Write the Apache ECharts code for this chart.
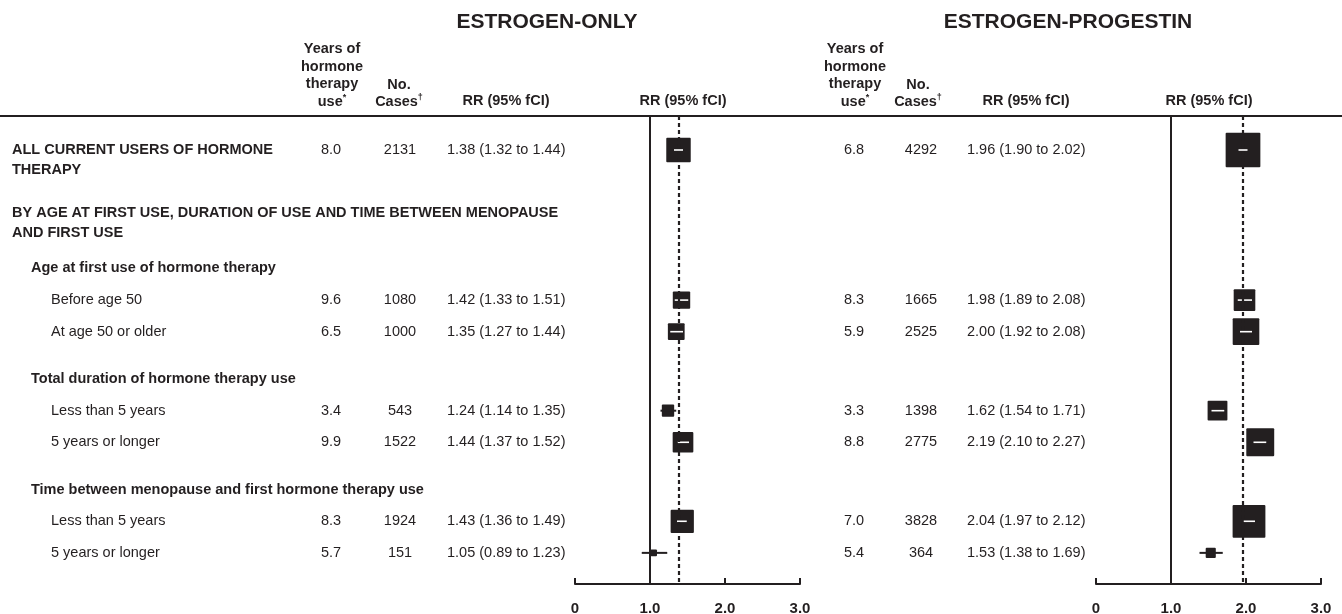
<!DOCTYPE html>
<html><head><meta charset="utf-8">
<script src="https://cdn.jsdelivr.net/npm/echarts@6/dist/echarts.min.js"></script>
<style>html,body{margin:0;padding:0;background:#fff}#c{width:1342px;height:614px}</style>
</head><body><div id="c"></div>
<script>
// ---------- data ----------
const panelTitles = ['ESTROGEN-ONLY', 'ESTROGEN-PROGESTIN'];
const rowLabels = [
  'ALL CURRENT USERS OF HORMONE\nTHERAPY',
  'BY AGE AT FIRST USE, DURATION OF USE AND TIME BETWEEN MENOPAUSE\nAND FIRST USE',
  'Age at first use of hormone therapy',
  'Before age 50',
  'At age 50 or older',
  'Total duration of hormone therapy use',
  'Less than 5 years',
  '5 years or longer',
  'Time between menopause and first hormone therapy use',
  'Less than 5 years',
  '5 years or longer'
];
const rowKinds = ['main', 'main', 'sub', 'item', 'item', 'sub', 'item', 'item', 'sub', 'item', 'item'];
const dataRows = [0, 3, 4, 6, 7, 9, 10];

const eoYears = [8.0, 9.6, 6.5, 3.4, 9.9, 8.3, 5.7];
const eoCases = [2131, 1080, 1000, 543, 1522, 1924, 151];
const eoRR    = [1.38, 1.42, 1.35, 1.24, 1.44, 1.43, 1.05];
const eoLo    = [1.32, 1.33, 1.27, 1.14, 1.37, 1.36, 0.89];
const eoHi    = [1.44, 1.51, 1.44, 1.35, 1.52, 1.49, 1.23];

const epYears = [6.8, 8.3, 5.9, 3.3, 8.8, 7.0, 5.4];
const epCases = [4292, 1665, 2525, 1398, 2775, 3828, 364];
const epRR    = [1.96, 1.98, 2.00, 1.62, 2.19, 2.04, 1.53];
const epLo    = [1.90, 1.89, 1.92, 1.54, 2.10, 1.97, 1.38];
const epHi    = [2.02, 2.08, 2.08, 1.71, 2.27, 2.12, 1.69];

const xTicks = [0, 1, 2, 3];
const xTickLabels = ['0', '1.0', '2.0', '3.0'];

// ---------- layout / style ----------
const INK = '#231f20';
const FONT = '"Liberation Sans", Arial, Helvetica, sans-serif';
const rowSlot = [0, 8, 15, 19, 23, 29, 33, 37, 43, 47, 51];
const labelX = { main: 12, sub: 31, item: 51 };
const cols = [
  { years: 331, cases: 400, rr: 447, yearsHead: 332, casesHead: 399, rrHead: 506, plotHead: 683, title: 547 },
  { years: 854, cases: 921, rr: 967, yearsHead: 855, casesHead: 918, rrHead: 1026, plotHead: 1209, title: 1068 }
];
const panels = [
  { years: eoYears, cases: eoCases, rr: eoRR, lo: eoLo, hi: eoHi },
  { years: epYears, cases: epCases, rr: epRR, lo: epLo, hi: epHi }
];

function fmtRR(p, i) {
  return p.rr[i].toFixed(2) + ' (' + p.lo[i].toFixed(2) + ' to ' + p.hi[i].toFixed(2) + ')';
}

function txt(text, x, y, font, align) {
  return {
    type: 'text', x: x, y: y - 10,
    style: { text: text, font: font, fill: INK, lineHeight: 20,
      align: align, textAlign: align, verticalAlign: 'top', textVerticalAlign: 'top' }
  };
}

function rowsRender(params, api) {
  const slot = api.value(1), r = api.value(2);
  const y = api.coord([0, slot])[1];
  const kind = rowKinds[r];
  const ch = [];
  const lf = (kind === 'item' ? '' : 'bold ') + '14.5px ' + FONT;
  ch.push(txt(rowLabels[r], labelX[kind], y, lf, 'left'));
  const di = dataRows.indexOf(r);
  if (di >= 0) {
    const f = '14.5px ' + FONT;
    panels.forEach((p, k) => {
      const c = cols[k];
      ch.push(txt(p.years[di].toFixed(1), c.years, y, f, 'center'));
      ch.push(txt(String(p.cases[di]), c.cases, y, f, 'center'));
      ch.push(txt(fmtRR(p, di), c.rr, y, f, 'left'));
    });
  }
  return { type: 'group', children: ch };
}

function boxRender(params, api) {
  const rr = api.value(0), lo = api.value(1), hi = api.value(2), cases = api.value(3), slot = api.value(4);
  const c = api.coord([rr, slot]), l = api.coord([lo, slot]), h = api.coord([hi, slot]);
  const s = 0.53 * Math.sqrt(cases);
  const x0 = c[0] - s / 2, x1 = c[0] + s / 2;
  const ch = [{ type: 'rect', shape: { x: x0, y: c[1] - s / 2, width: s, height: s, r: 1 }, style: { fill: INK } }];
  if (l[0] >= x0 + 1 && h[0] <= x1 - 1) {
    ch.push({ type: 'line', shape: { x1: l[0], y1: c[1], x2: h[0], y2: c[1] }, style: { stroke: '#fff', lineWidth: 1.6 } });
  } else {
    ch.push({ type: 'line', shape: { x1: l[0], y1: c[1], x2: h[0], y2: c[1] }, style: { stroke: INK, lineWidth: 2 } });
  }
  return { type: 'group', children: ch };
}

const chart = echarts.init(document.getElementById('c'), null, { renderer: 'canvas' });

const grids = [
  { left: 575, width: 225, top: 116, height: 468, outerBoundsMode: 'none', containLabel: false },
  { left: 1096, width: 225, top: 116, height: 468, outerBoundsMode: 'none', containLabel: false }
];
const yMin = -4.304, yMax = 54.94;

const xAxes = grids.map((g, k) => ({
  gridIndex: k, type: 'value', min: 0, max: 3, interval: 1,
  axisLine: { show: true, onZero: false, lineStyle: { color: INK, width: 2 } },
  axisTick: { show: true, inside: true, length: 6, lineStyle: { color: INK, width: 2 } },
  axisLabel: { show: true, margin: 17, color: INK, fontWeight: 'bold', fontSize: 15, fontFamily: FONT,
    formatter: v => { const i = xTicks.indexOf(v); return i >= 0 ? xTickLabels[i] : ''; } },
  splitLine: { show: false }
}));
const yAxes = grids.map((g, k) => ({
  gridIndex: k, type: 'value', min: yMin, max: yMax, inverse: true, show: false
}));

const series = [];
panels.forEach((p, k) => {
  series.push({
    type: 'custom', xAxisIndex: k, yAxisIndex: k, clip: false, silent: true,
    renderItem: boxRender, encode: { x: 0, y: 4 },
    data: p.rr.map((v, i) => [v, p.lo[i], p.hi[i], p.cases[i], rowSlot[dataRows[i]]]),
    markLine: {
      silent: true, symbol: 'none', animation: false, label: { show: false },
      data: [
        { xAxis: 1, lineStyle: { type: 'solid', color: INK, width: 2 } },
        { xAxis: p.rr[0], lineStyle: { type: [4, 3], color: INK, width: 2.2 } }
      ]
    }
  });
});
series.push({
  type: 'custom', xAxisIndex: 0, yAxisIndex: 0, clip: false, silent: true,
  renderItem: rowsRender, encode: { x: 0, y: 1 },
  data: rowLabels.map((_, i) => [0, rowSlot[i], i])
});

const graphic = [
  { type: 'line', shape: { x1: 0, y1: 116, x2: 1342, y2: 116 }, style: { stroke: INK, lineWidth: 2 } }
];
const hf = 'bold 14.5px ' + FONT;
const rich = {
  a: { font: hf, fill: INK, color: INK, fontWeight: 'bold', fontSize: 14.5, fontFamily: FONT, lineHeight: 17.7 },
  s: { fill: INK, color: INK, fontWeight: 'bold', fontSize: 9, fontFamily: FONT, lineHeight: 17.7, verticalAlign: 'top', padding: [0, 0, 6, 0] }
};
cols.forEach((c, k) => {
  graphic.push({ type: 'text', x: c.title, y: 22,
    style: { text: panelTitles[k], font: 'bold 21px ' + FONT, fill: INK, align: 'center', textAlign: 'center', verticalAlign: 'middle', textVerticalAlign: 'middle' } });
  graphic.push({ type: 'text', x: c.yearsHead, y: 49 - 8.85,
    style: { text: '{a|Years of}\n{a|hormone}\n{a|therapy}\n{a|use}{s|*}', rich: rich, font: hf, fill: INK, align: 'center', textAlign: 'center', verticalAlign: 'top', textVerticalAlign: 'top', lineHeight: 17.7 } });
  graphic.push({ type: 'text', x: c.casesHead, y: 84.5 - 8.85,
    style: { text: '{a|No.}\n{a|Cases}{s|\u2020}', rich: rich, font: hf, fill: INK, align: 'center', textAlign: 'center', verticalAlign: 'top', textVerticalAlign: 'top', lineHeight: 17.7 } });
  graphic.push({ type: 'text', x: c.rrHead, y: 101,
    style: { text: 'RR (95% fCI)', font: hf, fill: INK, align: 'center', textAlign: 'center', verticalAlign: 'middle', textVerticalAlign: 'middle' } });
  graphic.push({ type: 'text', x: c.plotHead, y: 101,
    style: { text: 'RR (95% fCI)', font: hf, fill: INK, align: 'center', textAlign: 'center', verticalAlign: 'middle', textVerticalAlign: 'middle' } });
});

chart.setOption({
  animation: false,
  backgroundColor: '#fff',
  grid: grids,
  xAxis: xAxes,
  yAxis: yAxes,
  series: series,
  graphic: graphic
});
</script></body></html>
